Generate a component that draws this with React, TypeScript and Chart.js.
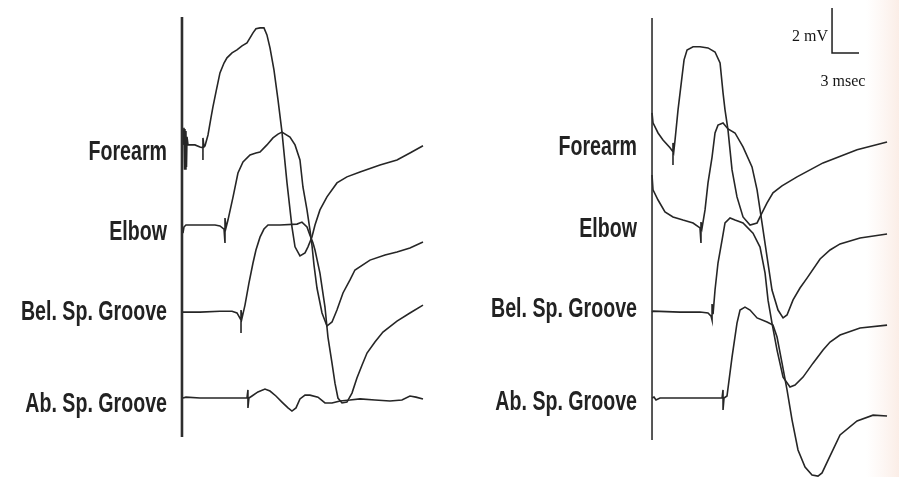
import React, { useEffect, useRef } from "react";
import { Chart, registerables } from "chart.js";

Chart.register(...registerables);

// ---- labels ----
const TRACE_LABELS = ["Forearm", "Elbow", "Bel. Sp. Groove", "Ab. Sp. Groove"];
// baseline of each trace (mV, on the shared vertical scale)
const TRACE_OFFSETS_MV = [14.76, 11.2, 7.33, 3.51];

// ---- left panel (time in ms from stimulus, amplitude in mV from baseline) ----
const LF_T = [0.11,0.22,0.28,0.33,0.39,0.44,0.5,0.56,0.67,1.44,2.0,2.33,2.33,2.33,2.44,2.56,2.89,3.22,3.44,3.78,4.22,4.67,5.0,5.56,6.11,6.67,7.22,7.56,7.89,8.22,8.67,9.11,9.44,9.78,10.22,10.67,11.11,11.67,12.22,12.56,13.11,13.67,14.0,14.44,14.78,15.33,16.11,17.22,18.33,19.78,22.0,23.89,25.33,26.78];
const LF_MV = [0,0.76,-1.07,0.71,-1.07,0.62,-0.98,0.36,0,0,-0.09,-0.13,-0.67,0.31,-0.09,-0.04,0.44,1.2,1.69,2.36,3.2,3.64,3.87,4.09,4.22,4.4,4.53,4.76,4.98,5.16,5.2,5.2,4.89,4.31,3.33,2.0,0.58,-1.69,-3.64,-4.53,-4.93,-4.8,-4.53,-4.09,-3.56,-2.89,-2.31,-1.69,-1.42,-1.2,-0.89,-0.67,-0.36,-0.04];

const LE_T = [0.11,0.22,0.44,2.0,3.67,4.22,4.67,4.78,4.78,4.78,4.89,5.11,5.67,6.22,6.78,7.56,8.22,8.67,9.44,10.11,10.67,11.11,12.0,12.56,13.11,13.44,13.89,14.22,14.44,14.67,15.0,15.56,16.11,16.67,17.22,17.89,18.67,19.22,20.89,22.56,23.89,25.33,26.78];
const LE_MV = [-0.36,-0.09,0,0,0,-0.04,-0.18,-0.22,-0.8,0.31,-0.13,0.22,1.24,2.31,2.8,3.11,3.2,3.24,3.56,3.87,4.04,4.13,3.91,3.56,2.89,1.69,0.67,-0.22,-0.89,-1.78,-2.8,-3.91,-4.49,-4.31,-3.78,-3.02,-2.44,-2.0,-1.56,-1.33,-1.2,-1.02,-0.76];

const LB_T = [0.11,2.0,4.22,5.56,6.11,6.44,6.56,6.56,6.56,6.67,7.0,7.44,7.89,8.22,8.67,9.11,9.56,10.89,12.78,13.33,13.89,14.22,14.56,14.78,15.33,15.89,16.22,16.67,17.0,17.33,17.78,18.33,18.89,19.44,20.0,20.56,21.44,22.33,23.89,25.33,26.78];
const LB_MV = [0,0,0.04,0.04,-0.04,-0.27,-0.36,-0.93,0.09,-0.27,0.31,1.29,2.18,2.76,3.33,3.69,3.87,3.87,3.91,4.0,3.78,3.42,3.07,2.76,1.73,0.22,-1.11,-2.27,-3.16,-3.82,-4.04,-4.0,-3.6,-2.93,-2.36,-1.82,-1.33,-0.89,-0.4,-0.04,0.31];

const LA_T = [0.11,0.44,2.0,7.22,7.33,7.33,7.44,7.78,8.44,9.22,9.78,10.44,11.11,11.78,12.22,12.67,13.11,13.67,14.22,15.11,15.89,16.67,17.56,18.67,19.78,21.44,23.11,24.44,25.33,26.0,26.78];
const LA_MV = [0,0.04,0,0,0.36,-0.44,0,0.09,0.27,0.4,0.31,0.09,-0.18,-0.44,-0.58,-0.44,-0.04,0.13,0.13,0.04,-0.22,-0.22,-0.13,-0.09,-0.04,-0.09,-0.13,-0.09,0.09,0.04,-0.04];

// ---- right panel ----
const RF_T = [0,0.11,0.67,1.22,2.0,2.33,2.33,2.33,2.44,2.56,2.89,3.33,3.56,3.89,4.56,5.33,6.22,7.0,7.56,7.89,8.11,8.44,8.89,9.44,10.11,10.89,11.67,12.22,12.78,13.44,14.44,16.11,19.0,22.78,26.11];
const RF_MV = [1.42,0.98,0.53,0.22,-0.13,-0.31,-0.89,0.09,-0.22,0.22,1.56,3.02,3.78,4.22,4.36,4.36,4.31,4.13,3.64,2.31,1.56,0.67,-1.11,-2.31,-3.2,-3.56,-3.47,-3.02,-2.58,-2.13,-1.82,-1.42,-0.8,-0.22,0.13];

const RE_T = [0,0.11,0.67,1.44,2.33,3.44,4.56,5.33,5.44,5.44,5.56,5.89,6.22,6.67,7.0,7.33,7.89,8.44,9.22,10.11,11.11,11.67,12.22,12.78,13.33,14.0,14.56,15.0,15.67,16.44,17.22,18.67,19.78,20.89,23.11,26.11];
const RE_MV = [2.22,1.56,1.11,0.58,0.36,0.22,0.09,-0.13,-0.8,0.13,-0.13,0.67,1.87,3.02,4.09,4.44,4.53,4.27,4.09,3.47,2.58,1.56,0.09,-1.42,-2.89,-3.78,-4.13,-4.0,-3.33,-2.8,-2.36,-1.51,-1.11,-0.84,-0.58,-0.4];

const RB_T = [0,0.11,3.11,5.33,6.22,6.56,6.67,6.67,6.78,7.0,7.33,7.78,8.11,8.67,9.22,10.11,11.22,12.0,12.56,12.89,13.33,13.89,14.56,15.33,15.89,16.78,17.89,19.0,19.78,20.89,23.11,26.11];
const RB_MV = [0,0.04,0,0,-0.04,-0.18,-0.36,0.36,-0.09,0.98,2.18,3.2,3.96,4.18,4.09,3.96,3.51,2.89,1.73,0.53,-0.49,-1.69,-2.89,-3.33,-3.24,-2.89,-2.27,-1.69,-1.33,-1.02,-0.71,-0.58];

const RA_T = [0,0.22,0.44,0.89,5.33,7.78,7.89,7.89,8.0,8.33,8.89,9.44,9.78,10.33,10.89,11.67,12.78,13.44,13.89,14.44,15.0,15.56,16.22,17.0,17.78,18.44,18.89,19.56,20.89,22.78,24.56,26.11];
const RA_MV = [0,0.04,-0.09,0,0,0,0.36,-0.53,0,0.09,1.82,3.33,3.91,4.04,3.91,3.56,3.38,3.24,2.71,1.56,0.36,-0.98,-2.31,-3.07,-3.42,-3.47,-3.33,-2.76,-1.64,-1.02,-0.76,-0.8];

// vertical reference line at stimulus time (mV extent)
const LEFT_AXIS_MV = [1.78, 20.44];
const RIGHT_AXIS_MV = [1.64, 20.4];

// calibration bar
const SCALE_BAR_MS = 3;
const SCALE_BAR_MV = 2;
const SCALE_BAR_ORIGIN = [20, 18.84]; // ms, mV on right panel
const SCALE_TEXT_MV = "2 mV";
const SCALE_TEXT_MS = "3 msec";

// scale ranges
const X_LEFT_RANGE = [-20.22, 79.67];
const X_RIGHT_RANGE = [-72.44, 27.44];
const Y_RANGE = [0, 21.2];

const INK = "#262626";
const LABEL_T = -1.67;
const LABEL_DY_LEFT = [15, 15, 8, 14];
const LABEL_DY_RIGHT = [10, 12, 5, 12];

function trace(t: number[], mv: number[], offset: number, axis: string) {
  return {
    data: t.map((x, i) => ({ x, y: offset + mv[i] })),
    xAxisID: axis,
    yAxisID: "y",
    borderColor: INK,
    borderWidth: 1.6,
    pointRadius: 0,
    fill: false,
    tension: 0,
  };
}

const bgPlugin = {
  id: "paper",
  beforeDraw(chart: any) {
    const { ctx, width, height } = chart;
    ctx.save();
    ctx.fillStyle = "#ffffff";
    ctx.fillRect(0, 0, width, height);
    const g = ctx.createLinearGradient(866, 0, width, 0);
    g.addColorStop(0, "rgba(251,238,232,0)");
    g.addColorStop(1, "rgba(250,234,226,0.85)");
    ctx.fillStyle = g;
    ctx.fillRect(866, 0, width - 866, height);
    ctx.restore();
  },
};

const textPlugin = {
  id: "texts",
  afterDatasetsDraw(chart: any) {
    const { ctx } = chart;
    const y = chart.scales.y;
    ctx.save();
    ctx.fillStyle = "#222222";
    ctx.font = 'bold 28px "Liberation Sans", Arial, sans-serif';
    const w = ctx.measureText("Bel. Sp. Groove").width;
    const sx = 146 / w;
    const panels: [string, number[]][] = [["xL", LABEL_DY_LEFT], ["xR", LABEL_DY_RIGHT]];
    panels.forEach(([axis, dys]) => {
      const sc = chart.scales[axis];
      const px = sc.getPixelForValue(LABEL_T);
      TRACE_LABELS.forEach((lab, i) => {
        const py = y.getPixelForValue(TRACE_OFFSETS_MV[i]) + dys[i];
        ctx.save();
        ctx.translate(px, py);
        ctx.scale(sx, 1);
        ctx.textAlign = "right";
        ctx.textBaseline = "alphabetic";
        ctx.fillText(lab, 0, 0);
        ctx.restore();
      });
    });
    // calibration texts
    const xr = chart.scales.xR;
    ctx.font = '16px "Liberation Serif", "Times New Roman", serif';
    ctx.fillStyle = "#161616";
    ctx.textBaseline = "alphabetic";
    ctx.textAlign = "right";
    ctx.fillText(SCALE_TEXT_MV, xr.getPixelForValue(SCALE_BAR_ORIGIN[0] - 0.44), y.getPixelForValue(SCALE_BAR_ORIGIN[1] + 0.56));
    ctx.textAlign = "center";
    ctx.fillText(SCALE_TEXT_MS, xr.getPixelForValue(SCALE_BAR_ORIGIN[0] + 1.22), y.getPixelForValue(SCALE_BAR_ORIGIN[1] - 1.46));
    ctx.restore();
  },
};

export default function App() {
  const ref = useRef<HTMLCanvasElement | null>(null);
  useEffect(() => {
    if (!ref.current) return;
    const [F, E, B, A] = TRACE_OFFSETS_MV;
    const datasets: any[] = [
      {
        data: [{ x: 0, y: LEFT_AXIS_MV[0] }, { x: 0, y: LEFT_AXIS_MV[1] }],
        xAxisID: "xL", yAxisID: "y", borderColor: "#2e2e2e", borderWidth: 2.6, pointRadius: 0,
      },
      {
        data: [{ x: 0, y: RIGHT_AXIS_MV[0] }, { x: 0, y: RIGHT_AXIS_MV[1] }],
        xAxisID: "xR", yAxisID: "y", borderColor: "#2e2e2e", borderWidth: 1.6, pointRadius: 0,
      },
      trace(LF_T, LF_MV, F, "xL"),
      trace(LE_T, LE_MV, E, "xL"),
      trace(LB_T, LB_MV, B, "xL"),
      trace(LA_T, LA_MV, A, "xL"),
      trace(RF_T, RF_MV, F, "xR"),
      trace(RE_T, RE_MV, E, "xR"),
      trace(RB_T, RB_MV, B, "xR"),
      trace(RA_T, RA_MV, A, "xR"),
      {
        data: [
          { x: SCALE_BAR_ORIGIN[0], y: SCALE_BAR_ORIGIN[1] + SCALE_BAR_MV },
          { x: SCALE_BAR_ORIGIN[0], y: SCALE_BAR_ORIGIN[1] },
          { x: SCALE_BAR_ORIGIN[0] + SCALE_BAR_MS, y: SCALE_BAR_ORIGIN[1] },
        ],
        xAxisID: "xR", yAxisID: "y", borderColor: "#1e1e1e", borderWidth: 1.5, pointRadius: 0,
      },
    ];
    const chart = new Chart(ref.current, {
      type: "line",
      data: { datasets },
      options: {
        animation: false,
        responsive: false,
        maintainAspectRatio: false,
        events: [],
        layout: { padding: 0 },
        plugins: { legend: { display: false }, tooltip: { enabled: false } },
        scales: {
          xL: { type: "linear", display: false, min: X_LEFT_RANGE[0], max: X_LEFT_RANGE[1] },
          xR: { type: "linear", display: false, min: X_RIGHT_RANGE[0], max: X_RIGHT_RANGE[1] },
          y: { type: "linear", display: false, min: Y_RANGE[0], max: Y_RANGE[1] },
        },
      } as any,
      plugins: [bgPlugin, textPlugin],
    });
    return () => chart.destroy();
  }, []);
  return (
    <div style={{ position: "fixed", left: 0, top: 0, width: 899, height: 477, background: "#fff" }}>
      <canvas ref={ref} width={899} height={477} style={{ display: "block", width: 899, height: 477 }} />
    </div>
  );
}
